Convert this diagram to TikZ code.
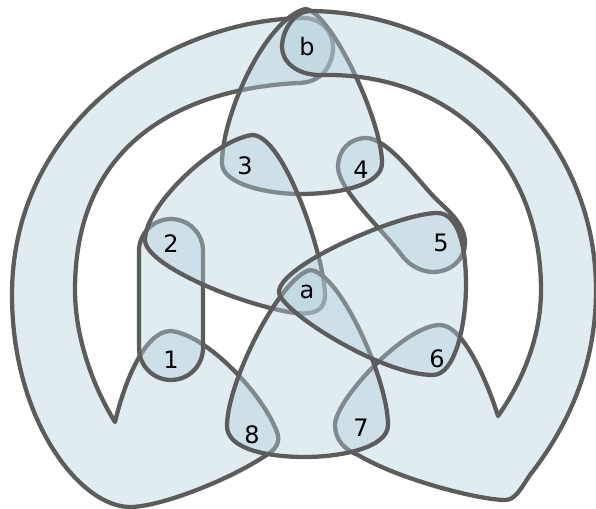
\documentclass[tikz,border=0pt]{standalone}
\usepackage{fontspec}
\setmainfont{DejaVu Sans}
\definecolor{blobfill}{HTML}{B2CFDA}
\definecolor{blobline}{HTML}{5C5C5C}

\begin{document}
\begin{tikzpicture}[
  x=0.75pt, y=-0.75pt,
  blob/.style={
    draw=blobline,
    fill=blobfill,
    fill opacity=0.4,
    line width=3.2pt,
    line join=round
  },
  vertex/.style={
    font=\fontsize{18}{20}\selectfont,
    inner sep=0pt
  }
]
\useasboundingbox (0,0) rectangle (596,509);

% left crescent: b, 1, 8
\draw[blob] (303,18) .. controls (322,18) and (333,32) .. (333,47)
  .. controls (333,65) and (322,83) .. (298,83)
  .. controls (200,88) and (75,130) .. (75,290)
  .. controls (75,340) and (95,390) .. (115,422)
  .. controls (125,380) and (145,332) .. (170,331)
  .. controls (205,333) and (265,395) .. (278,435)
  .. controls (280,445) and (272,452) .. (268,454)
  .. controls (230,480) and (160,507) .. (130,507)
  .. controls (80,507) and (12,420) .. (12,295)
  .. controls (12,120) and (170,20) .. (303,18) -- cycle;
% 1, 2
\draw[blob, rounded corners=24pt] (139,219) rectangle (203,380);
% 4, 5
\draw[blob] (366,138) .. controls (350,138) and (338,150) .. (338,167)
  .. controls (338,190) and (385,232) .. (403,257)
  .. controls (412,268) and (425,272) .. (433,272)
  .. controls (452,272) and (465,258) .. (465,243)
  .. controls (465,225) and (450,212) .. (437,200)
  .. controls (418,181) and (388,138) .. (366,138) -- cycle;
% b, 3, 4
\draw[blob] (305,9) .. controls (265,20) and (222,115) .. (222,163)
  .. controls (222,185) and (270,194) .. (300,194)
  .. controls (340,194) and (382,185) .. (382,163)
  .. controls (382,120) and (330,10) .. (305,9) -- cycle;
% right crescent: b, 6, 7
\draw[blob] (310,11) .. controls (295,11) and (282,30) .. (282,47)
  .. controls (282,62) and (297,75) .. (320,75)
  .. controls (450,72) and (541,160) .. (541,290)
  .. controls (541,340) and (520,385) .. (498,416)
  .. controls (490,390) and (465,325) .. (440,325)
  .. controls (405,325) and (335,400) .. (335,425)
  .. controls (335,440) and (345,450) .. (358,455)
  .. controls (400,480) and (480,500) .. (505,500)
  .. controls (515,500) and (520,490) .. (530,475)
  .. controls (565,430) and (596,370) .. (596,290)
  .. controls (596,130) and (460,12) .. (310,11) -- cycle;
% 2, 3, a
\draw[blob] (252,135) .. controls (215,140) and (145,205) .. (145,240)
  .. controls (145,265) and (240,305) .. (295,313)
  .. controls (315,315) and (325,310) .. (325,295)
  .. controls (325,260) and (285,135) .. (252,135) -- cycle;
% a, 7, 8
\draw[blob] (310,270) .. controls (280,278) and (228,380) .. (227,425)
  .. controls (226,450) and (270,457) .. (305,457)
  .. controls (340,457) and (388,448) .. (388,425)
  .. controls (388,380) and (340,272) .. (310,270) -- cycle;
% a, 5, 6
\draw[blob] (279,292) .. controls (279,265) and (400,213) .. (437,213)
  .. controls (458,213) and (466,245) .. (466,285)
  .. controls (466,325) and (455,375) .. (433,375)
  .. controls (380,375) and (279,310) .. (279,292) -- cycle;

\node[vertex] (vb) at (307,47) {b};
\node[vertex] (v3) at (245,166) {3};
\node[vertex] (v4) at (361,170) {4};
\node[vertex] (v2) at (171,244) {2};
\node[vertex] (v1) at (171,360) {1};
\node[vertex] (va) at (307,292) {a};
\node[vertex] (v5) at (441,243) {5};
\node[vertex] (v6) at (437,359) {6};
\node[vertex] (v7) at (361,428) {7};
\node[vertex] (v8) at (252,435) {8};

\end{tikzpicture}
\end{document}
